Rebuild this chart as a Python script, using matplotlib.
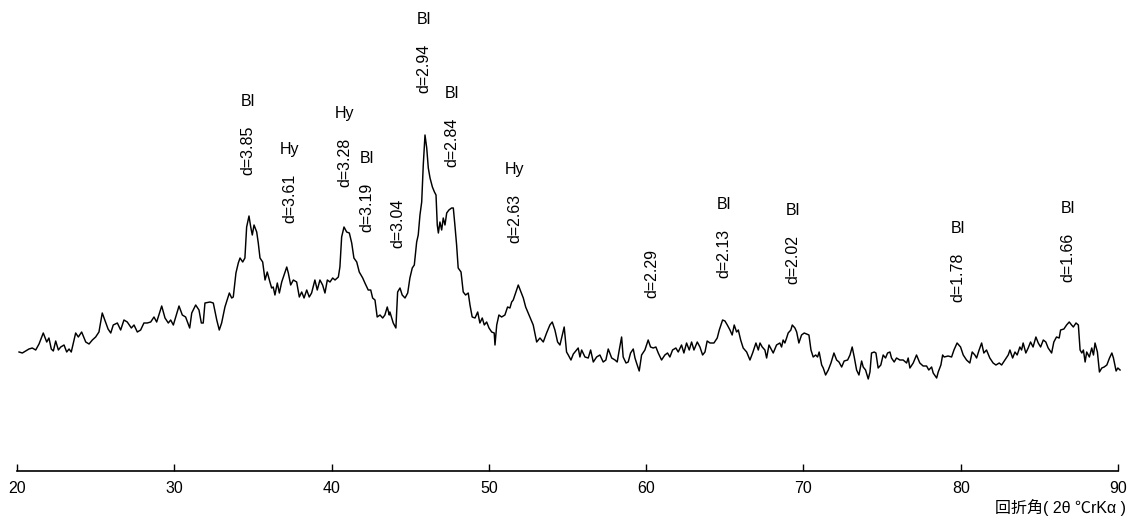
import matplotlib.pyplot as plt

# diffraction angle (2theta, deg) and intensity (arbitrary units)
two_theta = [
    20.13, 20.34, 20.55, 20.76, 20.97, 21.19, 21.40, 21.67, 21.89, 22.03, 22.18, 22.31, 22.46, 22.63, 22.78,
    22.99, 23.16, 23.31, 23.45, 23.73, 23.90, 24.11, 24.37, 24.58, 24.79, 25.00, 25.21, 25.42, 25.58, 25.79,
    25.96, 26.12, 26.38, 26.59, 26.80, 27.01, 27.27, 27.44, 27.65, 27.86, 28.07, 28.28, 28.50, 28.71, 28.88,
    29.20, 29.41, 29.62, 29.77, 29.94, 30.09, 30.30, 30.51, 30.72, 30.98, 31.11, 31.36, 31.57, 31.72, 31.84,
    31.95, 32.27, 32.48, 32.70, 32.86, 33.01, 33.22, 33.50, 33.65, 33.75, 33.92, 34.07, 34.18, 34.35, 34.49,
    34.60, 34.75, 34.86, 34.96, 35.07, 35.24, 35.34, 35.45, 35.62, 35.77, 35.91, 36.08, 36.19, 36.29, 36.40,
    36.55, 36.68, 36.83, 37.04, 37.15, 37.25, 37.40, 37.57, 37.78, 37.95, 38.10, 38.25, 38.42, 38.58, 38.73,
    38.94, 39.09, 39.26, 39.43, 39.58, 39.73, 39.90, 40.07, 40.22, 40.43, 40.53, 40.64, 40.79, 40.96, 41.13,
    41.28, 41.42, 41.60, 41.76, 41.98, 42.12, 42.33, 42.49, 42.61, 42.76, 42.90, 43.08, 43.25, 43.39, 43.54,
    43.67, 43.71, 43.92, 44.09, 44.20, 44.35, 44.49, 44.67, 44.84, 44.98, 45.13, 45.26, 45.41, 45.51, 45.62,
    45.73, 45.83, 45.94, 46.05, 46.15, 46.26, 46.41, 46.54, 46.64, 46.72, 46.79, 46.89, 47.00, 47.10, 47.21,
    47.32, 47.46, 47.63, 47.74, 47.84, 47.95, 48.05, 48.23, 48.37, 48.52, 48.69, 48.80, 48.94, 49.12, 49.29,
    49.43, 49.58, 49.71, 49.86, 50.01, 50.18, 50.34, 50.39, 50.50, 50.64, 50.81, 51.02, 51.19, 51.34, 51.45,
    51.55, 51.70, 51.87, 52.04, 52.19, 52.34, 52.50, 52.68, 52.82, 53.04, 53.25, 53.46, 53.67, 53.88, 54.03,
    54.20, 54.37, 54.52, 54.67, 54.79, 54.94, 55.05, 55.22, 55.37, 55.58, 55.68, 55.79, 55.90, 56.11, 56.32,
    56.47, 56.64, 56.85, 57.06, 57.27, 57.44, 57.59, 57.81, 58.02, 58.16, 58.29, 58.44, 58.54, 58.72, 58.86,
    59.01, 59.18, 59.29, 59.39, 59.56, 59.71, 59.92, 60.13, 60.28, 60.45, 60.62, 60.77, 60.98, 61.19, 61.36,
    61.51, 61.68, 61.89, 62.04, 62.25, 62.40, 62.57, 62.74, 62.89, 63.04, 63.25, 63.42, 63.59, 63.74, 63.88,
    64.06, 64.31, 64.52, 64.65, 64.86, 65.01, 65.16, 65.33, 65.47, 65.60, 65.75, 65.86, 66.01, 66.17, 66.39,
    66.60, 66.77, 66.98, 67.13, 67.24, 67.38, 67.55, 67.66, 67.81, 67.98, 68.08, 68.29, 68.50, 68.61, 68.71,
    68.82, 68.93, 69.03, 69.20, 69.29, 69.46, 69.57, 69.71, 69.88, 70.05, 70.35, 70.48, 70.62, 70.78, 70.90,
    71.00, 71.16, 71.26, 71.41, 71.58, 71.75, 71.94, 72.11, 72.26, 72.43, 72.59, 72.81, 72.96, 73.10, 73.23,
    73.38, 73.53, 73.70, 73.80, 73.95, 74.12, 74.23, 74.33, 74.50, 74.61, 74.75, 74.92, 75.07, 75.22, 75.35,
    75.50, 75.60, 75.77, 75.92, 76.13, 76.34, 76.56, 76.66, 76.77, 76.98, 77.19, 77.40, 77.61, 77.83, 77.97,
    78.15, 78.25, 78.47, 78.57, 78.74, 78.85, 78.95, 79.20, 79.42, 79.57, 79.77, 79.99, 80.16, 80.37, 80.58,
    80.73, 80.90, 81.01, 81.17, 81.33, 81.47, 81.64, 81.85, 82.06, 82.24, 82.45, 82.60, 82.81, 83.02, 83.13,
    83.30, 83.45, 83.59, 83.76, 83.87, 83.97, 84.14, 84.29, 84.44, 84.60, 84.78, 84.93, 85.08, 85.25, 85.41,
    85.56, 85.78, 85.92, 86.09, 86.26, 86.35, 86.56, 86.73, 86.90, 87.05, 87.16, 87.33, 87.48, 87.59, 87.70,
    87.80, 87.91, 88.01, 88.18, 88.33, 88.44, 88.54, 88.69, 88.82, 88.97, 89.12, 89.29, 89.46, 89.61, 89.71,
    89.88, 89.99, 90.13,
]
intensity = [
    119, 118, 120, 122, 123, 121, 127, 138, 129, 133, 122, 120, 130, 121, 124,
    126, 119, 122, 119, 138, 134, 139, 129, 127, 131, 134, 139, 158, 151, 142,
    138, 146, 148, 141, 151, 149, 143, 146, 139, 141, 148, 148, 149, 154, 149,
    165, 153, 148, 151, 146, 154, 165, 156, 154, 143, 158, 166, 161, 148, 148,
    168, 169, 168, 151, 141, 148, 164, 178, 173, 174, 198, 208, 213, 209, 213,
    244, 255, 244, 236, 246, 239, 228, 213, 209, 191, 199, 189, 183, 184, 176,
    188, 178, 189, 199, 204, 198, 186, 191, 189, 174, 179, 173, 181, 174, 178,
    191, 181, 191, 186, 178, 191, 189, 193, 191, 194, 204, 234, 244, 239, 238,
    228, 213, 209, 199, 193, 188, 181, 181, 173, 171, 154, 156, 153, 156, 164,
    156, 159, 148, 143, 179, 183, 176, 173, 178, 193, 203, 206, 229, 236, 256,
    269, 306, 336, 323, 303, 293, 284, 279, 276, 246, 238, 249, 241, 253, 246,
    258, 261, 263, 263, 246, 226, 203, 199, 179, 176, 178, 166, 154, 153, 159,
    148, 153, 146, 149, 143, 139, 138, 126, 146, 156, 154, 156, 164, 163, 169,
    171, 178, 186, 179, 173, 164, 158, 151, 146, 129, 133, 129, 138, 146, 149,
    141, 129, 126, 136, 144, 119, 116, 111, 117, 121, 123, 114, 121, 114, 113,
    121, 109, 114, 116, 109, 111, 122, 113, 111, 109, 121, 134, 114, 108, 109,
    118, 122, 113, 108, 100, 116, 121, 131, 124, 123, 124, 118, 111, 116, 118,
    114, 121, 123, 119, 126, 118, 128, 121, 129, 121, 129, 124, 116, 119, 130,
    128, 128, 133, 141, 151, 150, 146, 141, 136, 146, 139, 141, 131, 123, 119,
    111, 118, 128, 121, 128, 124, 121, 113, 126, 121, 118, 126, 128, 124, 131,
    128, 133, 138, 141, 146, 143, 139, 128, 136, 138, 136, 121, 114, 116, 114,
    119, 106, 103, 96, 101, 108, 118, 111, 109, 104, 110, 111, 116, 124, 114,
    101, 96, 110, 104, 101, 92, 99, 118, 119, 118, 103, 106, 116, 113, 118,
    119, 113, 109, 113, 111, 111, 108, 113, 103, 108, 116, 108, 105, 105, 101,
    104, 98, 93, 99, 106, 116, 114, 115, 114, 121, 128, 124, 116, 111, 108,
    119, 116, 113, 121, 128, 118, 121, 113, 108, 106, 108, 106, 111, 116, 121,
    113, 119, 116, 124, 121, 128, 118, 123, 129, 124, 134, 128, 124, 131, 129,
    123, 118, 129, 134, 133, 141, 142, 146, 149, 146, 144, 148, 146, 121, 118,
    121, 109, 119, 114, 123, 116, 128, 119, 99, 103, 104, 106, 113, 118, 113,
    100, 103, 101,
]

# peak annotations: position, phase, d-spacing, height of the label foot
peak_pos = [34.69, 37.32, 40.85, 42.23, 44.24, 45.87, 47.67, 51.66, 60.35, 64.92, 69.30, 79.82, 86.81]
peak_phase = ['Bl', 'Hy', 'Hy', 'Bl', '', 'Bl', 'Bl', 'Hy', '', 'Bl', 'Bl', 'Bl', 'Bl']
peak_d = ['3.85', '3.61', '3.28', '3.19', '3.04', '2.94', '2.84', '2.63', '2.29', '2.13', '2.02', '1.78', '1.66']
label_foot = [296, 248, 284, 239, 223, 378, 304, 228, 173, 193, 187, 169, 189]

xticks = [20, 30, 40, 50, 60, 70, 80, 90]
xlabel = '回折角( 2θ ℃rKα )'

plt.rcParams['font.family'] = ['Liberation Sans', 'Noto Sans CJK JP', 'DejaVu Sans']

fig = plt.figure(figsize=(11.34, 5.21), dpi=100)
ax = fig.add_axes([17 / 1134, 50 / 521, 1101 / 1134, 471 / 521])

ax.plot(two_theta, intensity, color='black', lw=1.05, clip_on=False)

for x, ph, d, y in zip(peak_pos, peak_phase, peak_d, label_foot):
    ax.text(x, y, 'd=' + d, rotation=90, ha='center', va='bottom', fontsize=11.5)
    if ph:
        ax.annotate(ph, (x, y), xytext=(0, 53), textcoords='offset points',
                    ha='center', va='center', fontsize=11.5)

ax.set_xlim(20, 90)
ax.set_ylim(0, 471)
ax.set_xticks(xticks)
ax.set_yticks([])
for s in ['left', 'right', 'top']:
    ax.spines[s].set_visible(False)
ax.spines['bottom'].set_linewidth(1.2)
ax.tick_params(axis='x', direction='in', length=5, width=1, pad=7, labelsize=11.5)

fig.text(1126 / 1134, 1 - 508 / 521, xlabel, ha='right', va='center', fontsize=11.5)

fig.savefig('out.png', dpi=100)
